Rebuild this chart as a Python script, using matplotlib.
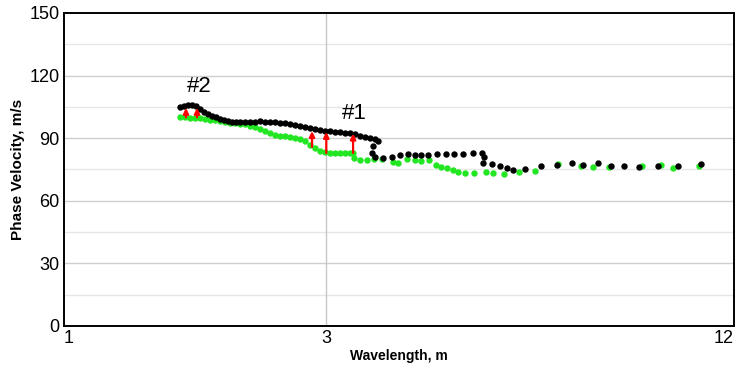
import matplotlib.pyplot as plt
import numpy as np

plt.rcParams['font.family'] = ['Liberation Sans', 'DejaVu Sans']

# Wavelength (m) / phase velocity (m/s)
black_wl = [1.825, 1.850, 1.875, 1.901, 1.927, 1.953, 1.980, 2.007, 2.034, 2.062,
            2.091, 2.119, 2.148, 2.178, 2.207, 2.238, 2.276, 2.315, 2.355, 2.395,
            2.436, 2.478, 2.520, 2.564, 2.608, 2.652, 2.698, 2.744, 2.791, 2.839,
            2.888, 2.937, 2.988, 3.039, 3.091, 3.144, 3.198, 3.252, 3.308, 3.365,
            3.423, 3.481, 3.541, 3.577, 3.517, 3.505, 3.541, 3.639, 3.752, 3.855,
            3.961, 4.057, 4.141, 4.240, 4.372, 4.508, 4.632, 4.776, 4.941, 5.095,
            5.130, 5.112, 5.271, 5.416, 5.547, 5.661, 5.897, 6.227, 6.575, 6.919,
            7.182, 7.558, 7.900, 8.257, 8.689, 9.268, 9.921, 10.727]
black_v = [104.8, 105.3, 105.7, 105.7, 105.3, 103.8, 102.4, 101.4, 100.5, 100.0,
           99.0, 98.6, 98.1, 97.6, 97.6, 97.6, 97.6, 97.6, 97.6, 98.1,
           97.6, 97.6, 97.6, 97.1, 97.1, 96.7, 96.2, 95.7, 95.2, 94.7,
           94.3, 93.8, 93.3, 93.3, 92.8, 92.8, 92.3, 92.3, 91.9, 90.9,
           90.4, 90.0, 89.5, 88.5, 86.1, 82.8, 80.9, 80.4, 80.9, 81.8,
           82.3, 81.8, 81.8, 81.8, 82.3, 82.3, 82.3, 82.3, 82.8, 82.8,
           80.9, 78.0, 77.5, 76.6, 75.6, 74.6, 75.1, 76.6, 77.0, 78.0,
           77.0, 78.0, 76.6, 76.6, 76.1, 76.6, 76.6, 77.5]

green_wl = [1.825, 1.856, 1.888, 1.920, 1.953, 1.987, 2.021, 2.055, 2.091, 2.126,
            2.163, 2.200, 2.238, 2.276, 2.315, 2.355, 2.395, 2.436, 2.478, 2.520,
            2.564, 2.608, 2.652, 2.698, 2.744, 2.791, 2.839, 2.888, 2.937, 2.988,
            3.039, 3.091, 3.144, 3.198, 3.252, 3.286, 3.297, 3.365, 3.446, 3.529,
            3.626, 3.765, 3.829, 3.948, 4.057, 4.141, 4.255, 4.357, 4.432, 4.523,
            4.616, 4.696, 4.809, 4.958, 5.165, 5.289, 5.490, 5.778, 6.101, 6.597,
            7.134, 7.431, 7.846, 8.778, 9.363, 9.754, 10.655]
green_v = [100.0, 100.0, 99.5, 99.5, 99.5, 99.0, 98.6, 98.6, 98.1, 97.6,
           97.1, 97.1, 96.7, 96.7, 95.7, 95.2, 94.3, 93.3, 92.3, 91.4,
           90.9, 90.9, 90.4, 90.0, 89.5, 88.5, 86.6, 85.2, 83.7, 83.3,
           82.8, 82.8, 82.8, 82.8, 82.8, 82.8, 80.4, 79.4, 79.4, 79.9,
           79.9, 78.5, 78.0, 79.9, 79.4, 78.9, 79.4, 77.0, 76.1, 75.6,
           74.6, 73.7, 73.2, 73.2, 73.7, 73.2, 72.7, 73.7, 74.2, 77.5,
           76.6, 76.1, 76.1, 76.6, 77.0, 75.6, 76.6]

# red arrows: wavelength, start (green), end (black)
arrow_wl = [1.862, 1.933, 2.858, 3.0, 3.286]
arrow_from = [100.0, 100.0, 85.8, 82.9, 82.9]
arrow_to = [104.5, 104.5, 93.4, 93.0, 92.2]

labels = ['#2', '#1']
label_wl = [1.946, 3.297]
label_v = [114.8, 101.9]

fig = plt.figure(figsize=(7.42, 3.71), dpi=100)
ax = fig.add_axes([0.0863, 0.1213, 0.9030, 0.8437])
ax.set_xscale('log')
ax.set_xlim(1.23, 12)
ax.set_ylim(0, 150)

# grid
for yv in np.arange(15, 150, 15):
    col = '#cfcfcf' if yv % 30 == 0 else '#e6e6e6'
    ax.axhline(yv, color=col, lw=1, zorder=0)
ax.axvline(3, color='#c8c8c8', lw=1, zorder=0)

ax.plot(green_wl, green_v, 'o', color='#22e622', ms=4.6, mec='none', zorder=2)
ax.plot(black_wl, black_v, 'o', color='black', ms=4.6, mec='none', zorder=3)

for wl, v0, v1 in zip(arrow_wl, arrow_from, arrow_to):
    ax.annotate('', xy=(wl, v1), xytext=(wl, v0),
                arrowprops=dict(arrowstyle='-|>', color='red', lw=1.6,
                                mutation_scale=8, shrinkA=0, shrinkB=0),
                zorder=4)

for t, wl, v in zip(labels, label_wl, label_v):
    ax.text(wl, v, t, fontsize=16, ha='center', va='center')

ax.set_yticks(np.arange(0, 151, 30))
ax.set_xticks([1.23, 3, 12])
ax.set_xticklabels(['1', '3', '12'])
ax.minorticks_off()
ax.tick_params(length=0, labelsize=13, pad=3)
ax.get_xticklabels()[0].set_ha('left')
ax.get_xticklabels()[2].set_ha('right')

for s in ax.spines.values():
    s.set_linewidth(1.4)
    s.set_color('black')

ax.set_xlabel('Wavelength, m', fontsize=10, fontweight='bold')
ax.set_ylabel('Phase Velocity, m/s', fontsize=11, fontweight='bold')
ax.xaxis.set_label_coords(0.5, -0.075)
ax.yaxis.set_label_coords(-0.058, 0.5)

fig.savefig('out.png', dpi=100)
